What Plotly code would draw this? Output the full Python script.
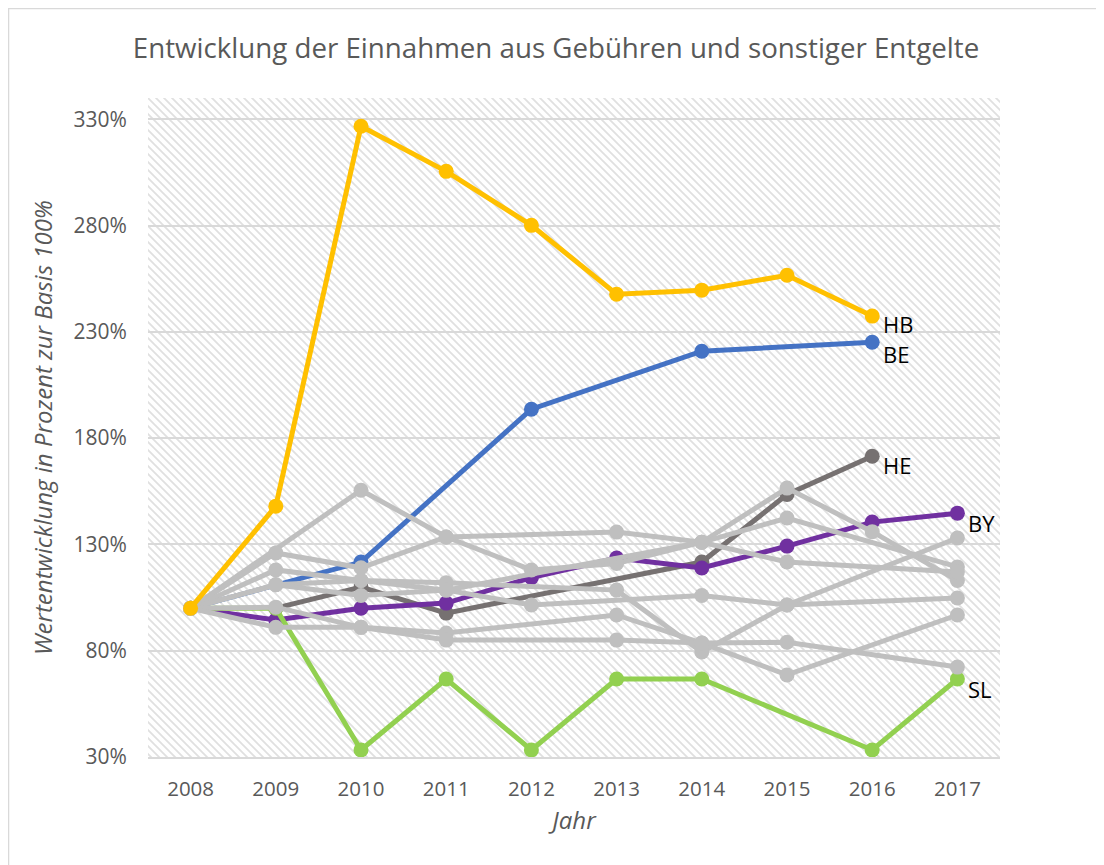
import base64
import plotly.graph_objects as go

years = ["2008", "2009", "2010", "2011", "2012", "2013", "2014", "2015", "2016", "2017"]

# highlighted states (values in % of base year)
hb = [100, 148.0, 326.7, 305.5, 280.1, 247.7, 249.6, 256.6, 237.4, None]
be = [100, None, 121.7, None, 193.6, None, 220.9, None, 225.1, None]
he = [None, 100, 109.9, 97.7, None, None, 121.7, 153.5, 171.5, None]
by = [100, 94.4, 100, 102.4, 114.4, 123.6, 118.9, 129.2, 140.5, 144.7]
sl = [100, 100, 33.3, 66.7, 33.3, 66.7, 66.7, None, 33.3, 66.7]

# remaining states (grey)
g1 = [100, None, 155.5, 133.5, 118, 121, 131, 156.5, 136, 113]
g2 = [100, 126, 119, 133.5, None, 135.8, 131, 142.4, None, 119.4]
g3 = [100, 118, 113, 108.5, None, None, 131, 121.7, None, 117]
g4 = [100, 111, 113, 112, None, 108.5, 79.4, 101.5, None, 133]
g5 = [100, 111, 106, 108.5, 101.5, None, 106, 101.5, None, 104.8]
g6 = [100, 100.5, 91, 88.3, None, 96.8, 83.6, 68.6, None, 96.8]
g7 = [100, 91, 91, 85, None, 85, 83.6, 84, None, 72.3]

greys = [g1, g2, g3, g4, g5, g6, g7]
colored = [
    ("BE", be, "#4472C4"),
    ("HE", he, "#767171"),
    ("BY", by, "#7030A0"),
    ("SL", sl, "#92D050"),
]
hb_item = ("HB", hb, "#FFC000")
label_yshift = {"HB": -8, "BE": -12, "HE": -9, "BY": -10, "SL": -10}

fig = go.Figure()


def add_series(name, vals, color):
    fig.add_trace(go.Scatter(
        x=years, y=vals, name=name, mode="lines+markers",
        connectgaps=True,
        line=dict(color=color, width=5),
        marker=dict(color=color, size=15),
        showlegend=False,
    ))


for name, vals, color in colored:
    add_series(name, vals, color)
for i, vals in enumerate(greys):
    add_series(f"G{i+1}", vals, "#BFBFBF")
add_series(*hb_item)

# labels at the last point of each highlighted series
for name, vals, color in colored + [hb_item]:
    last = max(i for i, v in enumerate(vals) if v is not None)
    fig.add_annotation(
        x=last, y=vals[last], xref="x", yref="y", text=name, showarrow=False,
        xanchor="left", yanchor="middle", xshift=10, yshift=label_yshift[name],
        borderpad=0,
        font=dict(family="Open Sans", size=22, color="#000000"),
    )

# plot area geometry (px)
L, R, T, B = 140, 104, 90, 108
FW, FH = 1096, 857
W, H = FW - L - R, FH - T - B

# hatched plot-area background
svg = (
    f'<svg xmlns="http://www.w3.org/2000/svg" width="{W}" height="{H}" viewBox="0 0 {W} {H}">'
    '<defs><pattern id="p" patternUnits="userSpaceOnUse" width="8" height="8">'
    '<path d="M-2,-2 L10,10 M-2,6 L2,10 M6,-2 L10,2" stroke="#E0E0E0" stroke-width="1.8"/>'
    '</pattern></defs>'
    f'<rect width="{W}" height="{H}" fill="#FFFFFF"/>'
    f'<rect width="{W}" height="{H}" fill="url(#p)"/>'
    '</svg>'
)
src = "data:image/svg+xml;base64," + base64.b64encode(svg.encode()).decode()
fig.add_layout_image(dict(
    source=src, xref="paper", yref="paper", x=0, y=1, sizex=1, sizey=1,
    xanchor="left", yanchor="top", sizing="stretch", layer="below",
))

# outer chart border at the figure edge
fig.add_shape(type="rect", xref="paper", yref="paper",
              x0=-L / W + 0.0006, x1=1 + (R + 20) / W, y0=-(B + 20) / H, y1=1 + T / H - 0.0008,
              line=dict(color="#D9D9D9", width=1.5), fillcolor="rgba(0,0,0,0)",
              layer="below")

fig.update_layout(
    width=FW, height=FH,
    margin=dict(l=L, r=R, t=T, b=B),
    paper_bgcolor="#FFFFFF", plot_bgcolor="rgba(0,0,0,0)",
    font=dict(family="Open Sans", color="#595959"),
    title=dict(
        text="Entwicklung der Einnahmen aus Gebühren und sonstiger Entgelte",
        x=0.5, xref="container", xanchor="center", y=1 - 40 / FH, yanchor="middle",
        font=dict(family="Open Sans", size=27.7, color="#595959"),
    ),
    xaxis=dict(
        type="category", range=[-0.5, 9.5],
        showgrid=False, showline=True, linecolor="#D9D9D9", linewidth=2,
        ticks="outside", ticklen=12, tickcolor="rgba(0,0,0,0)",
        tickfont=dict(size=20.5, color="#595959"),
        title=dict(text="<i>Jahr</i>", font=dict(size=24, color="#595959"), standoff=12),
        fixedrange=True,
    ),
    yaxis=dict(
        range=[30, 340], tick0=30, dtick=50, ticksuffix="%",
        showgrid=True, gridcolor="#D9D9D9", gridwidth=2, zeroline=False,
        ticks="outside", ticklen=16, tickcolor="rgba(0,0,0,0)",
        tickfont=dict(size=21, color="#595959"),
        title=dict(text="<i>Wertentwicklung in Prozent zur Basis 100%</i>",
                   font=dict(size=24, color="#595959"), standoff=14),
    ),
)

fig.write_html("out.html")
